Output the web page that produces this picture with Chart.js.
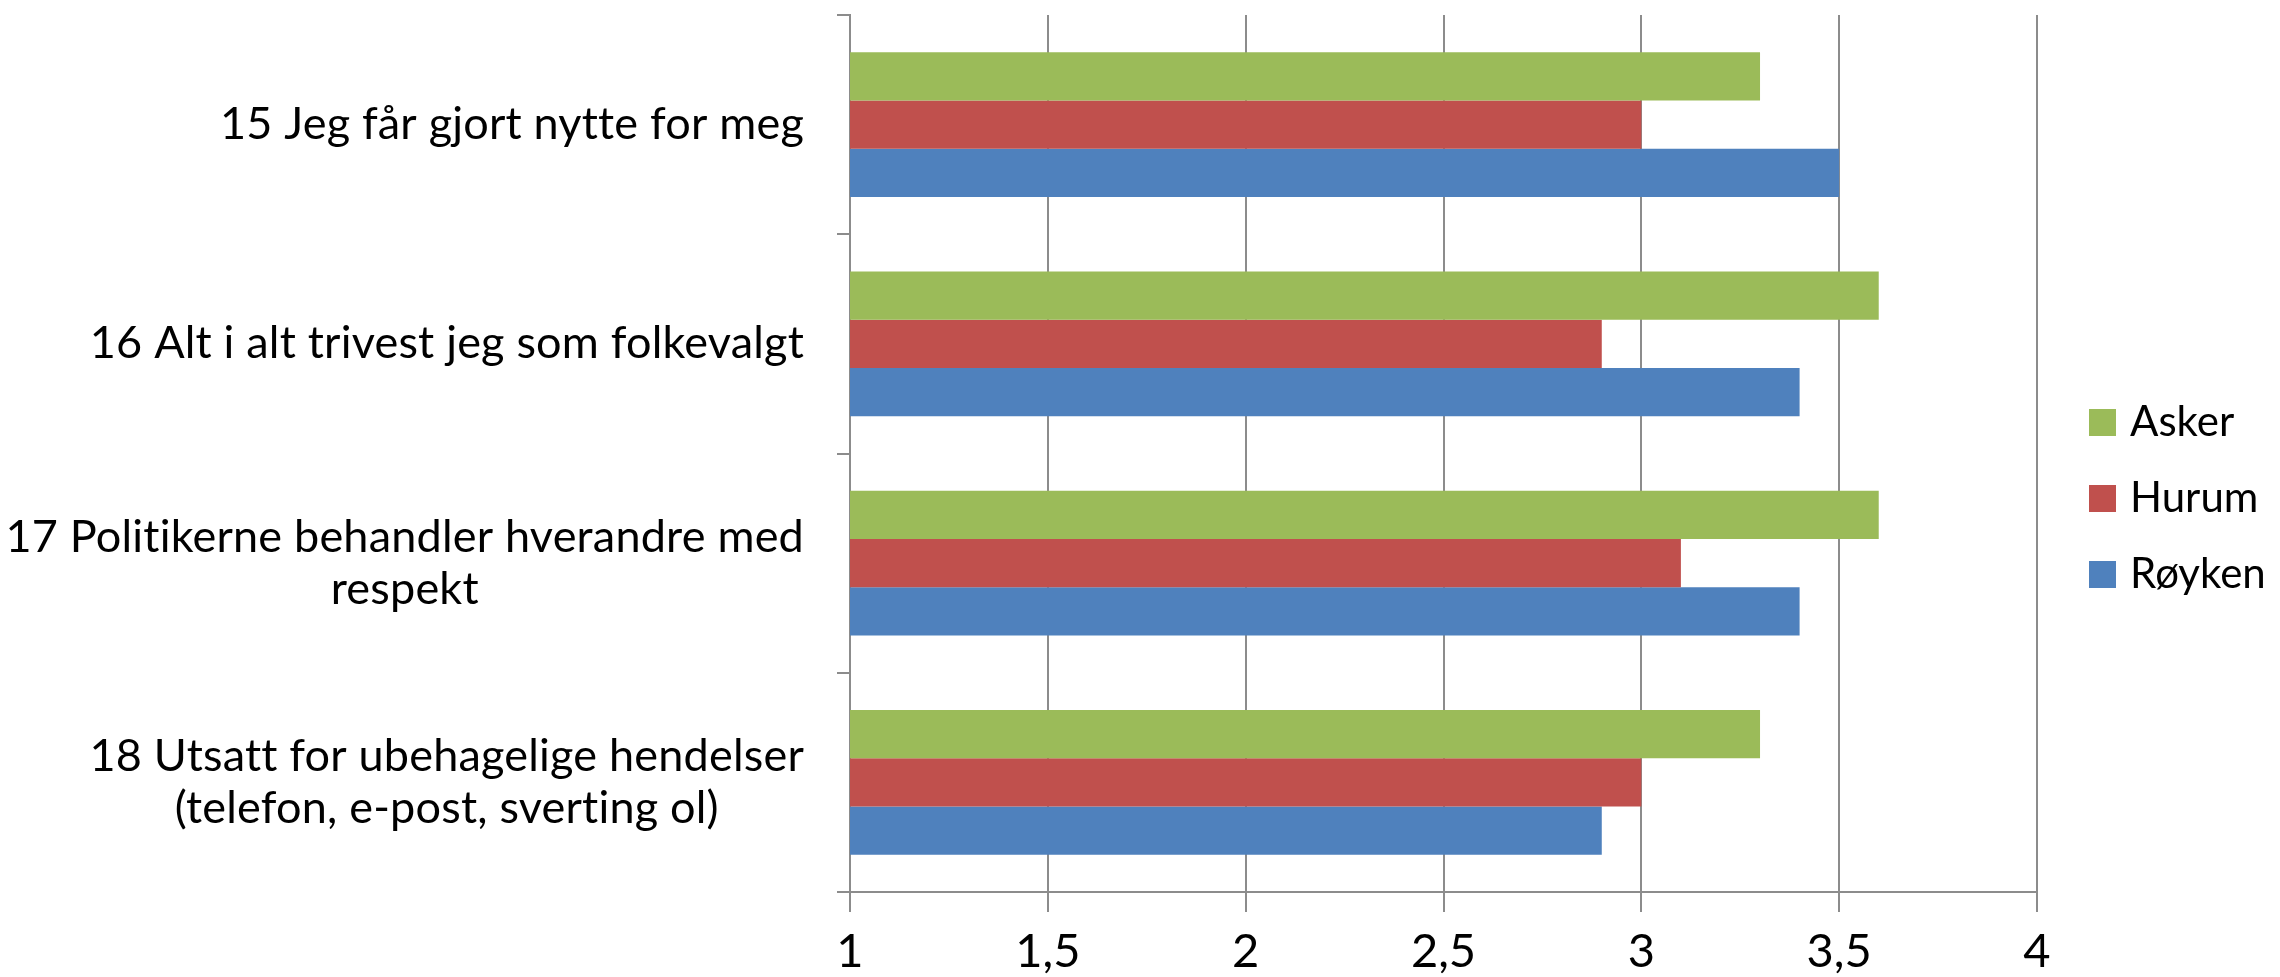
<!DOCTYPE html>
<html>
<head>
<meta charset="utf-8">
<script src="https://cdn.jsdelivr.net/npm/chart.js@4.4.1/dist/chart.umd.min.js"></script>
<style>
  html, body { margin: 0; background: #fff; }
  #wrap { width: 2280px; height: 977px; }
</style>
</head>
<body>
<div id="wrap"><canvas id="c"></canvas></div>
<script>
// 内容:每个类别一行或两行标签(两行时整体右对齐、行内居中)
const CATEGORIES = [
  ["15 Jeg får gjort nytte for meg"],
  ["16 Alt i alt trivest jeg som folkevalgt"],
  ["17 Politikerne behandler hverandre med", "respekt"],
  ["18 Utsatt for ubehagelige hendelser", "(telefon, e-post, sverting ol)"],
];
const SERIES = ["Asker", "Hurum", "Røyken"];
const ASKER  = [3.3, 3.6, 3.6, 3.3];
const HURUM  = [3.0, 2.9, 3.1, 3.0];
const ROYKEN = [3.5, 3.4, 3.4, 2.9];
const X_TICKS = [1, 1.5, 2, 2.5, 3, 3.5, 4];

const COLORS = ["#9bbb59", "#c0504d", "#4f81bd"];
const FONT = "Lato, 'Open Sans', sans-serif";
const GRID = "#8c8c8c";

// 类别标签自己画:Chart.js 的 crossAlign 只能让所有标签共用一个中心
const catLabels = {
  id: "catLabels",
  afterDraw(chart) {
    const ctx = chart.ctx;
    const y = chart.scales.y;
    const size = 45, lineH = 52;
    ctx.save();
    ctx.font = size + "px " + FONT;
    ctx.letterSpacing = "0.2px"; // 顺带关掉 Lato 的 tt/ti 连字
    ctx.fillStyle = "#000";
    ctx.textAlign = "center";
    ctx.textBaseline = "middle";
    const right = y.right - 46;
    CATEGORIES.forEach(function (lines, i) {
      const cy = y.getPixelForTick(i);
      const w = Math.max.apply(null, lines.map(l => ctx.measureText(l).width));
      const cx = right - w / 2;
      const top = cy - (lines.length - 1) * lineH / 2;
      lines.forEach(function (l, k) { ctx.fillText(l, cx, top + k * lineH); });
    });
    ctx.restore();
  },
};

// 图例也自己画:内置图例会把绘图区右缘顶得太靠右
const sideLegend = {
  id: "sideLegend",
  afterDraw(chart) {
    const ctx = chart.ctx;
    const box = 27, step = 76;
    const x = chart.chartArea.right + 52;
    const y0 = chart.height / 2 + 10 - step * (SERIES.length - 1) / 2;
    ctx.save();
    ctx.font = "42px " + FONT;
    ctx.textBaseline = "middle";
    SERIES.forEach(function (name, i) {
      const cy = y0 + i * step;
      ctx.fillStyle = COLORS[i];
      ctx.fillRect(x, cy - box / 2, box, box);
      ctx.fillStyle = "#000";
      ctx.fillText(name, x + box + 14, cy);
    });
    ctx.restore();
  },
};

new Chart(document.getElementById("c"), {
  type: "bar",
  data: {
    labels: CATEGORIES.map(l => l.join(" ")),
    datasets: [ASKER, HURUM, ROYKEN].map(function (d, i) {
      return {
        label: SERIES[i],
        data: d,
        backgroundColor: COLORS[i],
        borderWidth: 0,
        barPercentage: 1,
        categoryPercentage: 0.66,
      };
    }),
  },
  options: {
    indexAxis: "y",
    responsive: true,
    maintainAspectRatio: false,
    animation: false,
    layout: { padding: { top: 15, right: 243, left: 0, bottom: -14 } },
    scales: {
      x: {
        min: X_TICKS[0],
        max: X_TICKS[X_TICKS.length - 1],
        afterBuildTicks: s => { s.ticks = X_TICKS.map(v => ({ value: v })); },
        ticks: {
          color: "#000",
          font: { family: FONT, size: 47, lineHeight: 1 },
          padding: 16,
          maxRotation: 0,
          callback: v => String(v).replace(".", ","),
        },
        grid: { color: GRID, lineWidth: 2, tickLength: 20 },
        border: { color: GRID, width: 2 },
      },
      y: {
        ticks: { display: false },
        afterFit: s => { s.width = 850; },
        grid: { color: GRID, lineWidth: 2, tickLength: 13, drawOnChartArea: false },
        border: { color: GRID, width: 2 },
      },
    },
    plugins: {
      legend: { display: false },
      tooltip: { enabled: false },
    },
  },
  plugins: [catLabels, sideLegend],
});
</script>
</body>
</html>
